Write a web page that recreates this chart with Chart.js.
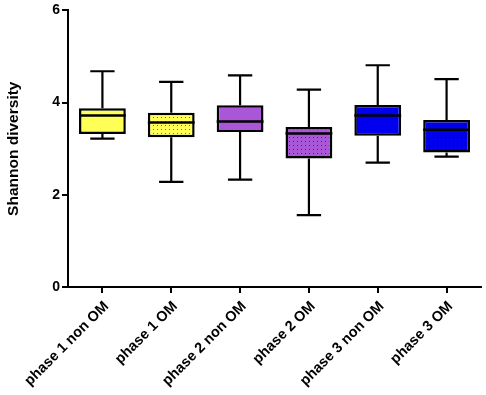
<!DOCTYPE html>
<html>
<head>
<meta charset="utf-8">
<script src="https://cdn.jsdelivr.net/npm/chart.js@4.4.0/dist/chart.umd.min.js"></script>
<style>
  html, body { margin: 0; padding: 0; background: #fff; }
  #wrap { width: 486px; height: 395px; }
</style>
</head>
<body>
<div id="wrap"><canvas id="chart" width="486" height="395"></canvas></div>
<script>
// groups on the x axis
const groups = ['phase 1 non OM', 'phase 1 OM', 'phase 2 non OM', 'phase 2 OM', 'phase 3 non OM', 'phase 3 OM'];

// box plot values
const minVals = [3.22, 2.28, 2.33, 1.56, 2.70, 2.83];
const q1Vals  = [3.32, 3.25, 3.36, 2.79, 3.28, 2.92];
const medVals = [3.72, 3.57, 3.59, 3.33, 3.72, 3.41];
const q3Vals  = [3.88, 3.78, 3.94, 3.47, 3.95, 3.62];
const maxVals = [4.68, 4.45, 4.59, 4.28, 4.81, 4.51];

const yTicks = [0, 2, 4, 6];

const fillColors = ['#ffff55', '#ffff55', '#a956d8', '#a956d8', '#0000ee', '#0000ee'];
const dotted = [false, true, false, true, false, true];

// dotted fill for the OM groups
function dotPattern(color) {
    const c = document.createElement('canvas');
    c.width = 4;
    c.height = 4;
    const g = c.getContext('2d');
    g.fillStyle = color;
    g.fillRect(0, 0, 4, 4);
    g.fillStyle = 'rgba(0,0,0,0.55)';
    g.fillRect(1, 1, 1, 1);
    return g.createPattern(c, 'repeat');
}

const fills = fillColors.map((c, i) => dotted[i] ? dotPattern(c) : c);

// whiskers behind the boxes, medians on top
const boxExtras = {
    id: 'boxExtras',
    beforeDatasetsDraw(chart) {
        const ctx = chart.ctx;
        const y = chart.scales.y;
        const meta = chart.getDatasetMeta(0);
        ctx.save();
        ctx.strokeStyle = '#000';
        ctx.lineWidth = 2.2;
        meta.data.forEach((bar, i) => {
            const cap = bar.width * 0.26;
            const yMin = y.getPixelForValue(minVals[i]);
            const yMax = y.getPixelForValue(maxVals[i]);
            ctx.beginPath();
            ctx.moveTo(bar.x, yMax);
            ctx.lineTo(bar.x, y.getPixelForValue(q3Vals[i]));
            ctx.moveTo(bar.x, yMin);
            ctx.lineTo(bar.x, y.getPixelForValue(q1Vals[i]));
            ctx.moveTo(bar.x - cap, yMax);
            ctx.lineTo(bar.x + cap, yMax);
            ctx.moveTo(bar.x - cap, yMin);
            ctx.lineTo(bar.x + cap, yMin);
            ctx.stroke();
        });
        ctx.restore();
    },
    afterDatasetsDraw(chart) {
        const ctx = chart.ctx;
        const y = chart.scales.y;
        const meta = chart.getDatasetMeta(0);
        ctx.save();
        ctx.strokeStyle = '#000';
        ctx.lineWidth = 2.5;
        meta.data.forEach((bar, i) => {
            const ym = y.getPixelForValue(medVals[i]);
            ctx.beginPath();
            ctx.moveTo(bar.x - bar.width / 2, ym);
            ctx.lineTo(bar.x + bar.width / 2, ym);
            ctx.stroke();
        });
        ctx.restore();
    }
};

const boldFont = (size) => ({ family: '"Liberation Sans", Arial, sans-serif', size: size, weight: 'bold' });

new Chart(document.getElementById('chart'), {
    type: 'bar',
    data: {
        labels: groups,
        datasets: [{
            data: q1Vals.map((v, i) => [v, q3Vals[i]]),
            backgroundColor: fills,
            borderColor: '#000',
            borderWidth: 2.5,
            borderSkipped: false,
            categoryPercentage: 1,
            barPercentage: 0.68
        }]
    },
    options: {
        responsive: false,
        animation: false,
        layout: { padding: { top: 4, right: 5, left: 4, bottom: 0 } },
        plugins: {
            legend: { display: false },
            tooltip: { enabled: false }
        },
        scales: {
            x: {
                afterFit(scale) { scale.height = 108; },
                grid: { offset: false, drawOnChartArea: false, color: '#000', lineWidth: 2, tickLength: 6 },
                border: { color: '#000', width: 2 },
                ticks: {
                    color: '#000',
                    font: boldFont(14.5),
                    maxRotation: 45,
                    minRotation: 45,
                    padding: 5,
                    labelOffset: 4
                }
            },
            y: {
                min: 0,
                max: 6,
                afterFit(scale) { scale.width = 64; },
                afterBuildTicks(scale) {
                    scale.ticks = yTicks.map(v => ({ value: v }));
                },
                grid: { drawOnChartArea: false, color: '#000', lineWidth: 2, tickLength: 6 },
                border: { color: '#000', width: 2 },
                ticks: { color: '#000', font: boldFont(14), padding: 2 },
                title: {
                    display: true,
                    text: 'Shannon diversity',
                    color: '#000',
                    font: boldFont(15.5),
                    padding: { top: 0, bottom: 0 }
                }
            }
        }
    },
    plugins: [boxExtras]
});
</script>
</body>
</html>
